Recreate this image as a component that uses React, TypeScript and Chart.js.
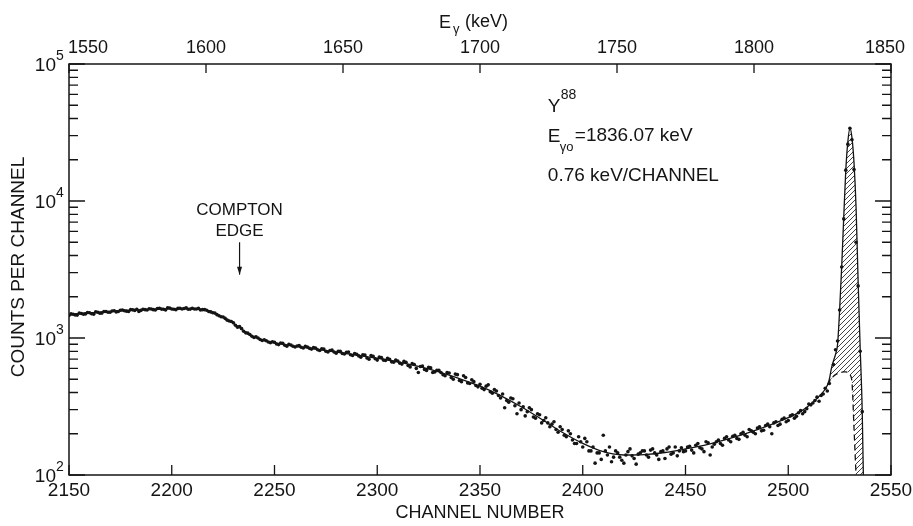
import React, { useEffect, useRef } from "react";
import { Chart, registerables } from "chart.js";
Chart.register(...registerables);

const CHANNEL_MIN = 2150;
const CHANNEL_MAX = 2550;
const ENERGY_MIN = 1550;
const ENERGY_MAX = 1850;
const COUNT_MIN = 100;
const COUNT_MAX = 100000;

const channelTicks = [2150, 2200, 2250, 2300, 2350, 2400, 2450, 2500, 2550];
const channelTickLabels = ["2150", "2200", "2250", "2300", "2350", "2400", "2450", "2500", "2550"];
const energyTicks = [1550, 1600, 1650, 1700, 1750, 1800, 1850];
const energyTickLabels = ["1550", "1600", "1650", "1700", "1750", "1800", "1850"];
const decadeTicks = [100, 1000, 10000, 100000];
const decadeExponents = ["2", "3", "4", "5"];

// measured counts on even channels, 2150, 2152, ...
const evenStartChannel = 2150;
const evenChannelCounts = [
  1460, 1490, 1470, 1510, 1500, 1530, 1490, 1540, 1520, 1560,
  1540, 1580, 1560, 1600, 1570, 1610, 1590, 1560, 1620, 1600,
  1630, 1600, 1650, 1620, 1660, 1630, 1610, 1650, 1640, 1620,
  1650, 1630, 1600, 1610, 1560, 1530, 1480, 1430, 1390, 1330,
  1290, 1200, 1170, 1090, 1060, 1010, 1000, 960, 955, 925,
  930, 895, 915, 870, 890, 860, 880, 845, 860, 830,
  845, 810, 830, 790, 815, 775, 800, 765, 790, 745,
  760, 725, 750, 700, 735, 690, 720, 685, 700, 665,
  680, 645, 665, 615, 640, 560, 625, 580, 605, 565,
  580, 540, 560, 515, 545, 490, 530, 470, 495, 450,
  460, 420, 455, 395, 410, 365, 310, 340, 360, 280,
  300, 270, 310, 265, 280, 240, 262, 225, 245, 205,
  215, 190, 200, 170, 190, 160, 175, 150, 122, 145,
  195, 140, 125, 150, 135, 122, 148, 138, 120, 145,
  150, 135, 155, 140, 148, 132, 160, 145, 138, 158,
  150, 162, 145, 170, 155, 175, 140, 168, 180, 165,
  190, 175, 195, 182, 205, 190, 210, 200, 225, 212,
  235, 200, 245, 235, 260, 250, 275, 268, 295, 290,
  330, 335, 370, 380, 430, 465,
];

// measured counts on odd channels, 2151, 2153, ...
const oddStartChannel = 2151;
const oddChannelCounts = [
  1500, 1475, 1520, 1490, 1535, 1505, 1550, 1515, 1560, 1540,
  1575, 1550, 1595, 1580, 1560, 1605, 1620, 1590, 1610, 1635,
  1610, 1640, 1625, 1600, 1655, 1620, 1645, 1630, 1660, 1625,
  1630, 1645, 1610, 1595, 1550, 1520, 1455, 1425, 1350, 1320,
  1240, 1210, 1120, 1085, 1030, 1020, 975, 970, 935, 940,
  905, 920, 885, 900, 870, 875, 855, 870, 840, 850,
  820, 835, 800, 810, 790, 800, 770, 785, 755, 770,
  740, 755, 715, 745, 705, 725, 690, 710, 670, 690,
  655, 675, 630, 650, 600, 620, 590, 610, 560, 580,
  560, 530, 555, 500, 540, 480, 515, 465, 480, 440,
  430, 445, 405, 420, 380, 390, 350, 365, 320, 335,
  315, 290, 300, 260, 275, 250, 240, 235, 215, 225,
  195, 210, 180, 170, 175, 185, 150, 160, 145, 130,
  150, 160, 135, 145, 128, 140, 155, 132, 142, 150,
  140, 152, 145, 130, 150, 155, 142, 160, 150, 148,
  160, 152, 165, 158, 148, 172, 160, 175, 170, 185,
  180, 192, 185, 200, 195, 215, 205, 220, 210, 230,
  225, 240, 230, 255, 245, 270, 260, 285, 280, 305,
  325, 350, 345, 390, 410,
];
const channelStep = 2;

const peakDotChannels = [2522, 2523, 2524, 2525, 2526, 2527, 2528, 2529, 2530, 2531, 2532, 2533, 2534, 2535, 2536];
const peakDotCounts = [640, 820, 950, 1600, 3300, 7400, 16800, 26000, 34000, 28000, 17000, 5000, 2400, 800, 290];

// fitted curve
const fitChannels = [
  2150, 2160, 2170, 2180, 2190, 2200, 2210, 2214, 2218, 2222, 2226, 2230, 2234, 2238, 2242, 2246,
  2250, 2260, 2270, 2280, 2290, 2300, 2310, 2320, 2330, 2340, 2350, 2360, 2370, 2380, 2390, 2400,
  2410, 2420, 2430, 2440, 2450, 2460, 2470, 2480, 2490, 2500, 2505, 2510, 2515,
];
const fitCounts = [
  1480, 1530, 1565, 1595, 1620, 1635, 1640, 1625, 1575, 1490, 1390, 1280, 1160, 1050, 995, 950,
  920, 870, 830, 790, 750, 710, 670, 620, 565, 505, 445, 380, 315, 255, 205, 170,
  148, 140, 141, 146, 155, 166, 182, 202, 228, 262, 285, 320, 375,
];

// full-energy peak (solid) and underlying background (dashed)
const peakChannels = [2519, 2520, 2521, 2522, 2523, 2524, 2525, 2526, 2527, 2528, 2529, 2530, 2531, 2532, 2533, 2534, 2535, 2536, 2537];
const peakCounts = [450, 500, 600, 680, 760, 900, 1600, 3300, 7600, 16800, 27000, 34000, 29000, 19000, 9000, 2600, 850, 290, 40];
const backgroundCounts = [450, 480, 505, 525, 540, 550, 557, 562, 565, 565, 560, 540, 480, 220, 100, 55, 35, 25, 15];

const comptonChannel = 2233;
const sourceChannel = 2383;
const titleText = "CHANNEL NUMBER";
const yTitleText = "COUNTS PER CHANNEL";

const FONT = '"Liberation Sans", Arial, sans-serif';
const INK = "#141414";

function makeHatch(ctx: CanvasRenderingContext2D) {
  const c = document.createElement("canvas");
  c.width = 5;
  c.height = 5;
  const p = c.getContext("2d")!;
  p.strokeStyle = INK;
  p.lineWidth = 0.8;
  p.beginPath();
  p.moveTo(0, 5);
  p.lineTo(5, 0);
  p.moveTo(-1, 1);
  p.lineTo(1, -1);
  p.moveTo(4, 6);
  p.lineTo(6, 4);
  p.stroke();
  return ctx.createPattern(c, "repeat")!;
}

const framePlugin = {
  id: "frame",
  afterDraw(chart: any) {
    const { ctx, chartArea: a, scales } = chart;
    const x = scales.x;
    const xt = scales.xTop;
    const y = scales.y;
    ctx.save();
    ctx.strokeStyle = INK;
    ctx.fillStyle = INK;
    ctx.lineWidth = 1.5;
    ctx.strokeRect(a.left, a.top, a.right - a.left, a.bottom - a.top);

    ctx.lineWidth = 1.3;
    ctx.beginPath();
    channelTicks.forEach((v) => {
      const px = x.getPixelForValue(v);
      ctx.moveTo(px, a.bottom);
      ctx.lineTo(px, a.bottom - 10);
    });
    energyTicks.forEach((v) => {
      const px = xt.getPixelForValue(v);
      ctx.moveTo(px, a.top);
      ctx.lineTo(px, a.top + 9);
    });
    decadeTicks.forEach((d) => {
      for (let m = 1; m <= 9; m++) {
        const v = d * m;
        if (v > COUNT_MAX) break;
        const py = y.getPixelForValue(v);
        const len = m === 1 ? 16 : 9;
        ctx.moveTo(a.left, py);
        ctx.lineTo(a.left + len, py);
        ctx.moveTo(a.right, py);
        ctx.lineTo(a.right - len, py);
      }
    });
    ctx.stroke();

    // bottom tick labels
    ctx.font = `19px ${FONT}`;
    ctx.textAlign = "center";
    ctx.textBaseline = "top";
    channelTicks.forEach((v, i) => {
      ctx.fillText(channelTickLabels[i], x.getPixelForValue(v), a.bottom + 6);
    });
    // top tick labels
    ctx.font = `18px ${FONT}`;
    ctx.textBaseline = "alphabetic";
    energyTicks.forEach((v, i) => {
      const px = xt.getPixelForValue(v);
      if (i === 0) {
        ctx.textAlign = "left";
        ctx.fillText(energyTickLabels[i], px - 1, a.top - 11);
      } else if (i === energyTicks.length - 1) {
        ctx.textAlign = "center";
        ctx.fillText(energyTickLabels[i], px - 6, a.top - 11);
      } else {
        ctx.textAlign = "center";
        ctx.fillText(energyTickLabels[i], px, a.top - 11);
      }
    });
    // decade labels
    decadeTicks.forEach((v, i) => {
      const py = y.getPixelForValue(v);
      ctx.font = `19px ${FONT}`;
      ctx.textAlign = "right";
      ctx.textBaseline = "middle";
      ctx.fillText("10", a.left - 13, py + 2);
      ctx.font = `14px ${FONT}`;
      ctx.textAlign = "left";
      ctx.fillText(decadeExponents[i], a.left - 13, py - 8);
    });

    // axis titles
    ctx.font = `18px ${FONT}`;
    ctx.textAlign = "center";
    ctx.textBaseline = "middle";
    ctx.fillText(titleText, (a.left + a.right) / 2, a.bottom + 38);
    ctx.save();
    ctx.font = `19px ${FONT}`;
    ctx.translate(19, 267);
    ctx.rotate(-Math.PI / 2);
    ctx.fillText(yTitleText, 0, 0);
    ctx.restore();

    // top title E_gamma (keV)
    const tx = xt.getPixelForValue(1685);
    ctx.textAlign = "left";
    ctx.textBaseline = "alphabetic";
    ctx.font = `18px ${FONT}`;
    ctx.fillText("E", tx, 28);
    ctx.font = `13px ${FONT}`;
    ctx.fillText("γ", tx + 14, 33);
    ctx.font = `18px ${FONT}`;
    ctx.fillText("(keV)", tx + 26, 27);

    // compton edge annotation
    const cx = x.getPixelForValue(comptonChannel);
    const arrowTop = y.getPixelForValue(5000);
    const arrowTip = y.getPixelForValue(2900);
    ctx.font = `17px ${FONT}`;
    ctx.textAlign = "center";
    ctx.fillText("COMPTON", cx, arrowTop - 27);
    ctx.fillText("EDGE", cx, arrowTop - 6);
    ctx.lineWidth = 1.2;
    ctx.beginPath();
    ctx.moveTo(cx, arrowTop);
    ctx.lineTo(cx, arrowTip);
    ctx.stroke();
    ctx.beginPath();
    ctx.moveTo(cx - 2.5, arrowTip - 8);
    ctx.lineTo(cx, arrowTip);
    ctx.lineTo(cx + 2.5, arrowTip - 8);
    ctx.closePath();
    ctx.fill();

    // source annotation
    const ax = x.getPixelForValue(sourceChannel);
    ctx.textAlign = "left";
    ctx.font = `19px ${FONT}`;
    ctx.fillText("Y", ax, 112);
    ctx.font = `14px ${FONT}`;
    ctx.fillText("88", ax + 13, 99);
    ctx.font = `19px ${FONT}`;
    ctx.fillText("E", ax, 142);
    ctx.font = `13px ${FONT}`;
    ctx.fillText("γo", ax + 12, 151);
    ctx.font = `19px ${FONT}`;
    ctx.fillText("=1836.07 keV", ax + 27, 141);
    ctx.fillText("0.76 keV/CHANNEL", ax, 181);
    ctx.restore();
  },
};

export default function App() {
  const ref = useRef<HTMLCanvasElement>(null);
  useEffect(() => {
    const canvas = ref.current!;
    const ctx = canvas.getContext("2d")!;
    const hatch = makeHatch(ctx);
    const dots = [
      ...evenChannelCounts.map((v, i) => ({ x: evenStartChannel + i * channelStep, y: v })),
      ...oddChannelCounts.map((v, i) => ({ x: oddStartChannel + i * channelStep, y: v })),
      ...peakDotChannels.map((c, i) => ({ x: c, y: peakDotCounts[i] })),
    ];
    const fitLine = [
      ...fitChannels.map((c, i) => ({ x: c, y: fitCounts[i] })),
      ...peakChannels.map((c, i) => ({ x: c, y: peakCounts[i] })),
    ];
    const peakTop = peakChannels.map((c, i) => ({ x: c, y: peakCounts[i] }));
    const background = peakChannels.map((c, i) => ({ x: c, y: backgroundCounts[i] }));

    const chart = new Chart(ctx, {
      type: "line",
      data: {
        datasets: [
          {
            data: dots,
            showLine: false,
            pointRadius: 1.8,
            pointBackgroundColor: INK,
            pointBorderWidth: 0,
            borderColor: INK,
          },
          {
            data: fitLine,
            borderColor: INK,
            borderWidth: 1.3,
            pointRadius: 0,
            cubicInterpolationMode: "monotone",
            fill: false,
          },
          {
            data: peakTop,
            borderColor: "rgba(0,0,0,0)",
            borderWidth: 0,
            pointRadius: 0,
            cubicInterpolationMode: "monotone",
            fill: false,
          },
          {
            data: background,
            borderColor: INK,
            borderWidth: 1.3,
            borderDash: [6, 4],
            pointRadius: 0,
            cubicInterpolationMode: "monotone",
            fill: "-1",
            backgroundColor: hatch,
          },
        ],
      },
      options: {
        responsive: false,
        animation: false,
        events: [],
        layout: { padding: { left: 69, right: 22, top: 64, bottom: 51 } },
        plugins: { legend: { display: false }, tooltip: { enabled: false } },
        scales: {
          x: { type: "linear", min: CHANNEL_MIN, max: CHANNEL_MAX, display: false },
          xTop: { type: "linear", position: "top", min: ENERGY_MIN, max: ENERGY_MAX, display: false },
          y: { type: "logarithmic", min: COUNT_MIN, max: COUNT_MAX, display: false },
        },
      },
      plugins: [framePlugin],
    });
    return () => chart.destroy();
  }, []);
  return (
    <div style={{ position: "fixed", left: 0, top: 0, width: 913, height: 526, background: "#fff" }}>
      <canvas ref={ref} width={913} height={526} style={{ display: "block" }} />
    </div>
  );
}
